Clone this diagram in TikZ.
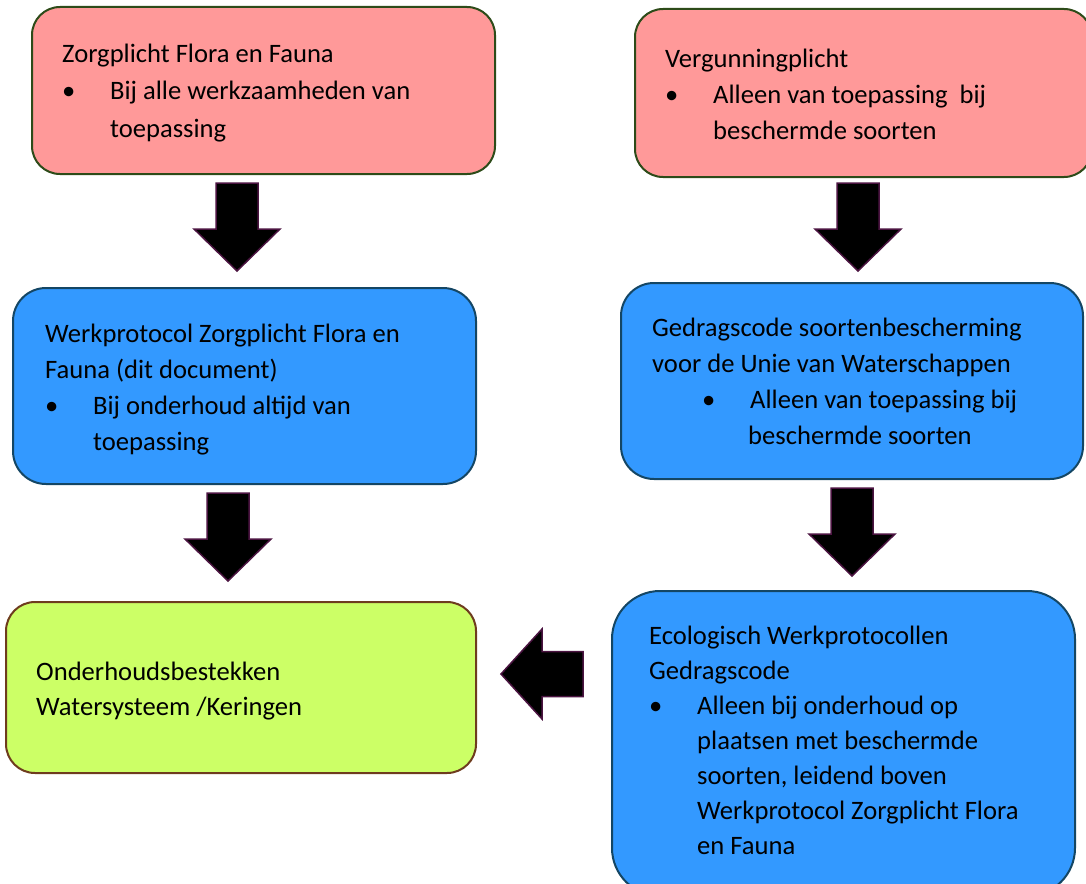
\documentclass[tikz,border=0pt]{standalone}
\usepackage{fontspec}
\setmainfont{Carlito}

\definecolor{roze}{HTML}{FF9999}
\definecolor{blauw}{HTML}{3399FF}
\definecolor{geel}{HTML}{CCFF66}
\definecolor{rozerand}{RGB}{45,75,25}
\definecolor{blauwrand}{RGB}{20,70,100}
\definecolor{geelrand}{RGB}{110,60,30}
\definecolor{pijlrand}{RGB}{75,20,65}

\tikzset{
  box/.style={draw, line width=2pt, inner sep=0pt},
  txt/.style={anchor=base west, inner sep=0pt, font=\fontsize{26.6}{36}\selectfont},
  blokpijl/.style={fill=black, draw=pijlrand, line width=1.5pt, line join=miter}
}
\newcommand{\bul}{\makebox[48pt][l]{\textbullet}}
\newcommand{\ind}{\hspace*{48pt}}

\begin{document}
\begin{tikzpicture}[x=1pt, y=-1pt]
      \clip (0,0) rectangle (1086,883);
      \node[box, fill=roze, draw=rozerand, minimum width=463, minimum height=167, rounded corners=28] (zorgplicht) at (263.5,90.5) {};
      \node[box, fill=roze, draw=rozerand, minimum width=457, minimum height=168, rounded corners=28] (vergunning) at (863.5,93) {};
      \node[box, fill=blauw, draw=blauwrand, minimum width=463, minimum height=196, rounded corners=33] (werkprotocol) at (244.5,386) {};
      \node[box, fill=blauw, draw=blauwrand, minimum width=462, minimum height=196, rounded corners=33] (gedragscode) at (852,381) {};
      \node[box, fill=geel, draw=geelrand, minimum width=470, minimum height=171, rounded corners=29] (bestekken) at (241,687.5) {};
      \node[box, fill=blauw, draw=blauwrand, minimum width=463, minimum height=305, rounded corners=48] (ecologisch) at (843.5,743.5) {};

      \node[txt, font=\fontsize{26.6}{37}\selectfont] (zorgplicht-t) at (62,63) {\begin{tabular}[t]{@{}l@{}}
        Zorgplicht Flora en Fauna\\ \bul Bij alle werkzaamheden van\\ \ind toepassing\end{tabular}};
      \node[txt] (vergunning-t) at (665,67) {\begin{tabular}[t]{@{}l@{}}
        Vergunningplicht\\ \bul Alleen van toepassing\ \ bij\\ \ind beschermde soorten\end{tabular}};
      \node[txt] (werkprotocol-t) at (45,342) {\begin{tabular}[t]{@{}l@{}}
        Werkprotocol Zorgplicht Flora en\\ Fauna (dit document)\\ \bul Bij onderhoud altijd van\\ \ind toepassing\end{tabular}};
      \node[txt] (gedragscode-t) at (652,336) {\begin{tabular}[t]{@{}l@{}}
        Gedragscode soortenbescherming\\ voor de Unie van Waterschappen\\
        \hspace*{50pt}\bul Alleen van toepassing bij\\ \hspace*{96pt}beschermde soorten\end{tabular}};
      \node[txt, font=\fontsize{26.6}{35}\selectfont] (bestekken-t) at (36,680) {\begin{tabular}[t]{@{}l@{}}
        Onderhoudsbestekken\\ Watersysteem /Keringen\end{tabular}};
      \node[txt, font=\fontsize{26.6}{35}\selectfont] (ecologisch-t) at (649,644) {\begin{tabular}[t]{@{}l@{}}
        Ecologisch Werkprotocollen\\ Gedragscode\\ \bul Alleen bij onderhoud op\\ \ind plaatsen met beschermde\\
        \ind soorten, leidend boven\\ \ind Werkprotocol Zorgplicht Flora\\ \ind en Fauna\end{tabular}};

      \foreach \ax/\ay in {237/183, 858/183, 228/493, 852/488}
        \draw[blokpijl, shift={(\ax,\ay)}] (-21,0) -- (21,0) -- (21,46) -- (43,46) -- (0,88) -- (-43,46) -- (-21,46) -- cycle;
      \draw[blokpijl] (583,651.5) -- (542,651.5) -- (542,629) -- (501,674) -- (542,719) -- (542,696.5) -- (583,696.5) -- cycle;
    \end{tikzpicture}
\end{document}
